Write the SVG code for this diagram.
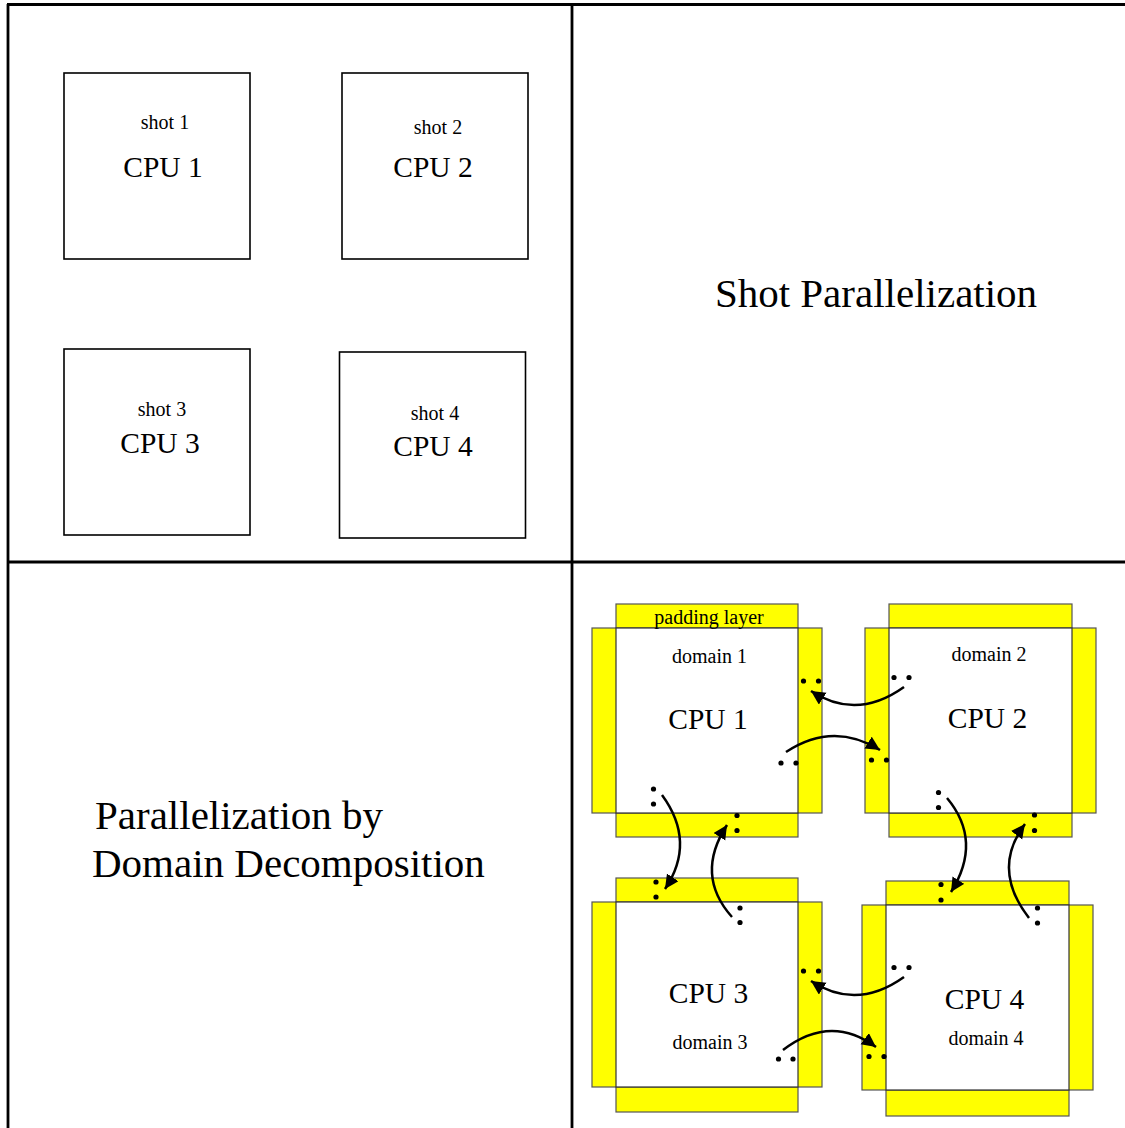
<svg xmlns="http://www.w3.org/2000/svg" width="1125" height="1128" viewBox="0 0 1125 1128">
<style>
text{font-family:"Liberation Serif","Times New Roman",serif;fill:#000;text-anchor:middle}
.frame{stroke:#000;stroke-width:2.8;fill:none}
.box{fill:#fff;stroke:#000;stroke-width:1.6}
.pad{fill:#ffff00;stroke:#555;stroke-width:1.2}
.core{fill:#fff;stroke:#333;stroke-width:1.2}
.s{font-size:20px}
.c{font-size:29.5px}
.big{font-size:41px}
.arr{fill:none;stroke:#000;stroke-width:2.5;marker-end:url(#ah)}
.dot{fill:#000}
</style>
<defs>
<marker id="ah" markerUnits="userSpaceOnUse" markerWidth="16" markerHeight="16" refX="14" refY="7" orient="auto">
<path d="M0,0 L14,7 L0,14 z" fill="#000"/>
</marker>
</defs>
<rect width="1125" height="1128" fill="#fff"/>
<g id="frame">
<line class="frame" x1="7" y1="4.5" x2="1125" y2="4.5"/>
<line class="frame" x1="8" y1="4" x2="8" y2="1128"/>
<line class="frame" x1="572" y1="4" x2="572" y2="1128"/>
<line class="frame" x1="8" y1="562" x2="1125" y2="562"/>
</g>
<g id="shot1"><rect class="box" x="64" y="73" width="186" height="186"/><text class="s" x="165" y="129">shot 1</text><text class="c" x="163" y="177">CPU 1</text></g>
<g id="shot2"><rect class="box" x="342" y="73" width="186" height="186"/><text class="s" x="438" y="134">shot 2</text><text class="c" x="433" y="177">CPU 2</text></g>
<g id="shot3"><rect class="box" x="64" y="349" width="186" height="186"/><text class="s" x="162" y="416">shot 3</text><text class="c" x="160" y="453">CPU 3</text></g>
<g id="shot4"><rect class="box" x="339.5" y="352" width="186" height="186"/><text class="s" x="435" y="420">shot 4</text><text class="c" x="433" y="456">CPU 4</text></g>
<g id="title-shot"><text class="big" x="876" y="307">Shot Parallelization</text></g>
<g id="title-domain"><text class="big" x="95" y="829" style="text-anchor:start">Parallelization by</text><text class="big" x="92" y="877" style="text-anchor:start">Domain Decomposition</text></g>
<g id="domain1">
<rect class="pad" x="616" y="604" width="182" height="233"/>
<rect class="pad" x="592" y="628" width="230" height="185"/>
<rect class="core" x="616" y="628" width="182" height="185"/>
<text class="s" x="709" y="624">padding layer</text>
<text class="s" x="709.5" y="663">domain 1</text>
<text class="c" x="708" y="729">CPU 1</text>
</g>
<g id="domain2">
<rect class="pad" x="889" y="604" width="183" height="233"/>
<rect class="pad" x="865" y="628" width="231" height="185"/>
<rect class="core" x="889" y="628" width="183" height="185"/>
<text class="s" x="989" y="661">domain 2</text>
<text class="c" x="987.5" y="728">CPU 2</text>
</g>
<g id="domain3">
<rect class="pad" x="616" y="878" width="182" height="234"/>
<rect class="pad" x="592" y="902" width="230" height="185"/>
<rect class="core" x="616" y="902" width="182" height="185"/>
<text class="c" x="708.5" y="1003">CPU 3</text>
<text class="s" x="710" y="1049">domain 3</text>
</g>
<g id="domain4">
<rect class="pad" x="886" y="881" width="183" height="235"/>
<rect class="pad" x="862" y="905" width="231" height="185"/>
<rect class="core" x="886" y="905" width="183" height="185"/>
<text class="c" x="984.5" y="1009">CPU 4</text>
<text class="s" x="986" y="1045">domain 4</text>
</g>
<g id="dots">
<circle class="dot" cx="803.5" cy="681" r="2.6"/><circle class="dot" cx="818.5" cy="681" r="2.6"/>
<circle class="dot" cx="894" cy="677.5" r="2.6"/><circle class="dot" cx="909" cy="677.5" r="2.6"/>
<circle class="dot" cx="781" cy="763" r="2.6"/><circle class="dot" cx="796" cy="763" r="2.6"/>
<circle class="dot" cx="871.5" cy="760" r="2.6"/><circle class="dot" cx="886.5" cy="760" r="2.6"/>
<circle class="dot" cx="653.5" cy="789" r="2.6"/><circle class="dot" cx="653.5" cy="804" r="2.6"/>
<circle class="dot" cx="656" cy="882" r="2.6"/><circle class="dot" cx="656" cy="897" r="2.6"/>
<circle class="dot" cx="737" cy="815.5" r="2.6"/><circle class="dot" cx="737" cy="830.5" r="2.6"/>
<circle class="dot" cx="740" cy="908" r="2.6"/><circle class="dot" cx="740" cy="922.5" r="2.6"/>
<circle class="dot" cx="938.5" cy="792.5" r="2.6"/><circle class="dot" cx="938.5" cy="807.5" r="2.6"/>
<circle class="dot" cx="941" cy="884.5" r="2.6"/><circle class="dot" cx="941" cy="900" r="2.6"/>
<circle class="dot" cx="1034.5" cy="815" r="2.6"/><circle class="dot" cx="1034.5" cy="830.5" r="2.6"/>
<circle class="dot" cx="1037.5" cy="908" r="2.6"/><circle class="dot" cx="1037.5" cy="923" r="2.6"/>
<circle class="dot" cx="803.5" cy="971" r="2.6"/><circle class="dot" cx="818.5" cy="971" r="2.6"/>
<circle class="dot" cx="894" cy="967.5" r="2.6"/><circle class="dot" cx="909" cy="967.5" r="2.6"/>
<circle class="dot" cx="778.5" cy="1059" r="2.6"/><circle class="dot" cx="793" cy="1059" r="2.6"/>
<circle class="dot" cx="869" cy="1056.5" r="2.6"/><circle class="dot" cx="884" cy="1056.5" r="2.6"/>
</g>
<g id="connectors">
<path class="arr" d="M904,687 Q856.5,721 811,691"/>
<path class="arr" d="M786,752 Q833,721 880,750"/>
<path class="arr" d="M662,795 Q696.5,842 665,889"/>
<path class="arr" d="M732,917 Q694.5,875 727,825"/>
<path class="arr" d="M947,798 Q983,841 951,892"/>
<path class="arr" d="M1029,918 Q991,869 1025,824"/>
<path class="arr" d="M904,977 Q856.5,1011 811,981"/>
<path class="arr" d="M783,1050 Q830.5,1013.5 876,1047"/>
</g>
</svg>
